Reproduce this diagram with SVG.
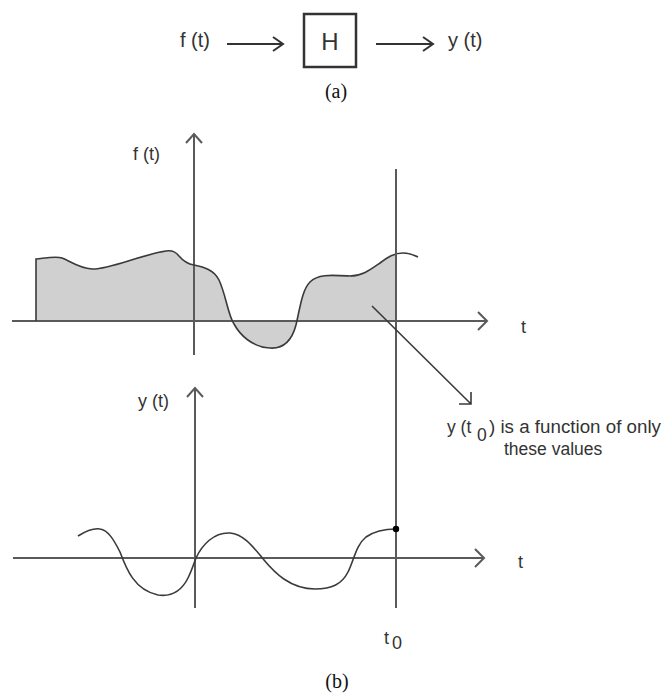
<svg xmlns="http://www.w3.org/2000/svg" width="665" height="693" viewBox="0 0 665 693">
<style>
.lbl{font-family:"Liberation Sans",Arial,sans-serif;fill:#333}
.cap{font-family:"Liberation Serif","Times New Roman",serif;fill:#111;font-size:20px;text-anchor:middle}
.ax{stroke:#5a5a5a;stroke-width:2;fill:none}
.head{stroke:#5a5a5a;stroke-width:2;fill:none;stroke-linejoin:miter}
.sig{stroke:#3a3a3a;stroke-width:1.6;fill:none}
.blk{stroke:#333;stroke-width:2;fill:none}
</style>
<defs>
<clipPath id="clipT0"><rect x="0" y="0" width="396" height="693"/></clipPath>
</defs>
<rect width="665" height="693" fill="#fff"/>

<g id="system-a">
  <g id="input-label"><text class="lbl" x="180" y="47" font-size="20">f (t)</text></g>
  <g id="block-H">
    <rect x="304" y="14" width="52" height="53" fill="#fff" stroke="#333" stroke-width="2.5"/>
    <text class="lbl" x="330" y="50" font-size="24" text-anchor="middle">H</text>
  </g>
  <g id="output-label"><text class="lbl" x="448" y="47" font-size="20">y (t)</text></g>
  <g id="caption-a"><text class="cap" x="336" y="98">(a)</text></g>
</g>

<g id="plot-f">
  <path id="f-fill" clip-path="url(#clipT0)" fill="#d0d0d0" d="M36,321 L36,259 C46,258 56,256 62,258 C70,261 78,268 92,269 C108,270 140,255 166,251 C172,250 176,252 179,256 C184,262 188,264 194,265 C204,267 214,270 219,280 C226,295 228,315 234,324 C240,335 252,347 270,348 C284,349 292,340 296,325 C300,308 302,290 310,282 C318,274 330,275 350,276 C362,276 370,270 380,263 C388,257 394,253 403,253 C410,253 414,255 418,257 L418,321 Z"/>
  <line class="ax" x1="12" y1="321" x2="487" y2="321"/>
  <path class="head" d="M478,312 L487,321 L478,330"/>
  <line class="ax" x1="194" y1="134" x2="194" y2="355"/>
  <path class="head" d="M186,143 L194,134 L202,143"/>
  <path class="sig" d="M36,321 L36,259 C46,258 56,256 62,258 C70,261 78,268 92,269 C108,270 140,255 166,251 C172,250 176,252 179,256 C184,262 188,264 194,265 C204,267 214,270 219,280 C226,295 228,315 234,324 C240,335 252,347 270,348 C284,349 292,340 296,325 C300,308 302,290 310,282 C318,274 330,275 350,276 C362,276 370,270 380,263 C388,257 394,253 403,253 C410,253 414,255 418,257"/>
  <text class="lbl" x="133" y="160" font-size="18">f (t)</text>
  <text class="lbl" x="521" y="333" font-size="18">t</text>
</g>

<g id="t0-line">
  <line class="ax" x1="396" y1="169" x2="396" y2="608"/>
</g>

<g id="plot-y">
  <line class="ax" x1="13" y1="558" x2="484" y2="558"/>
  <path class="head" d="M475,549 L484,558 L475,567"/>
  <line class="ax" x1="195" y1="388" x2="195" y2="608"/>
  <path class="head" d="M187,397 L195,388 L203,397"/>
  <path class="sig" d="M78,536 C86,531 94,528 100,529 C108,530 114,540 120,552 C126,568 134,590 158,595 C172,597 182,590 188,578 C192,570 194,563 196,558 C202,545 214,532 230,533 C244,534 254,548 264,560 C274,572 290,589 315,589 C332,589 342,584 348,572 C354,560 356,545 366,537 C376,530 386,529 396,529"/>
  <circle cx="396" cy="529" r="3.2" fill="#000"/>
  <text class="lbl" x="138" y="407" font-size="18">y (t)</text>
  <text class="lbl" x="518" y="568" font-size="18">t</text>
  <text class="lbl" x="384" y="644" font-size="18">t<tspan x="392" dy="5">0</tspan></text>
</g>

<g id="annotation">
  <text class="lbl" x="447" y="433" font-size="17.5">y (t<tspan x="477" dy="8">0</tspan><tspan x="489" dy="-8" textLength="172" lengthAdjust="spacingAndGlyphs">) is a function of only</tspan></text>
  <text class="lbl" x="504" y="455" font-size="17.5">these values</text>
</g>

<g id="caption-b"><text class="cap" x="337" y="688">(b)</text></g>

<g id="connectors">
  <path class="blk" d="M227,44 H283 M273,37 L283,44 L273,51"/>
  <path class="blk" d="M376,44 H433 M423,37 L433,44 L423,51"/>
  <path d="M372,306 L471,404 M471,392 L471,404 L459,404" stroke="#3a3a3a" stroke-width="1.6" fill="none"/>
</g>
</svg>
